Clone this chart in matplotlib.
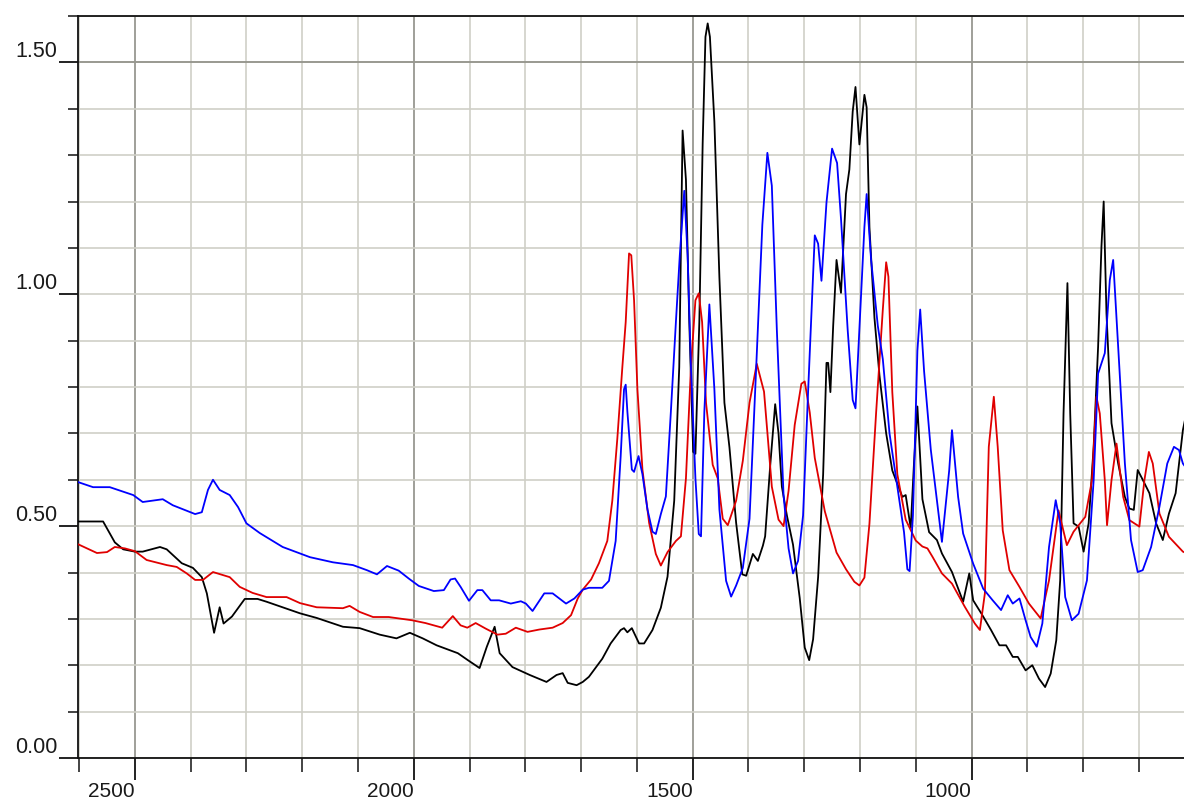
import matplotlib
matplotlib.use("Agg")
import matplotlib.pyplot as plt
from matplotlib.ticker import MultipleLocator, FixedLocator

plt.rcParams['font.family'] = ['Liberation Sans', 'DejaVu Sans']

# ---- data (wavenumber, absorbance) ----
black_wn = [2602, 2557, 2536, 2521, 2500, 2486, 2455, 2443, 2416, 2396, 2380, 2371, 2358, 2348, 2341,
            2326, 2317, 2303, 2280, 2264, 2204, 2174, 2127, 2097, 2061, 2031, 2007, 1984, 1959, 1921,
            1903, 1882, 1869, 1855, 1846, 1823, 1792, 1762, 1744, 1733, 1724, 1708, 1697, 1686, 1662,
            1647, 1629, 1623, 1617, 1609, 1596, 1587, 1572, 1557, 1545, 1533, 1524, 1518, 1512, 1506,
            1499, 1495, 1488, 1482, 1477, 1473, 1469, 1461, 1452, 1443, 1434, 1422, 1411, 1404, 1392,
            1383, 1374, 1370, 1361, 1352, 1346, 1340, 1331, 1320, 1308, 1299, 1291, 1284, 1275, 1266,
            1260, 1257, 1253, 1248, 1242, 1234, 1225, 1219, 1213, 1208, 1201, 1192, 1188, 1183, 1174,
            1165, 1153, 1142, 1124, 1118, 1109, 1103, 1097, 1088, 1076, 1062, 1053, 1035, 1015, 1004,
            997, 982, 965, 950, 938, 926, 917, 903, 891, 879, 868, 858, 848, 841, 835, 828, 823, 817,
            808, 799, 790, 781, 773, 767, 763, 758, 749, 737, 725, 717, 709, 702, 693, 681, 669, 657,
            646, 634, 621, 612]
black_ab = [0.51, 0.51, 0.465, 0.45, 0.445, 0.445, 0.455, 0.45, 0.42, 0.41, 0.39, 0.355, 0.27, 0.325, 0.29,
            0.305, 0.32, 0.343, 0.343, 0.337, 0.312, 0.302, 0.283, 0.28, 0.266, 0.258, 0.27, 0.258, 0.243, 0.226,
            0.211, 0.194, 0.24, 0.283, 0.226, 0.196, 0.179, 0.164, 0.179, 0.183, 0.162, 0.157, 0.164, 0.175, 0.214,
            0.247, 0.276, 0.28, 0.271, 0.28, 0.247, 0.247, 0.276, 0.324, 0.391, 0.555, 0.843, 1.353, 1.247, 0.94,
            0.66, 0.656, 0.94, 1.325, 1.555, 1.584, 1.555, 1.372, 1.036, 0.766, 0.67, 0.507, 0.396, 0.393, 0.44,
            0.425, 0.458, 0.478, 0.629, 0.763, 0.70, 0.585, 0.523, 0.46, 0.345, 0.238, 0.211, 0.256, 0.39, 0.612,
            0.852, 0.852, 0.789, 0.932, 1.074, 1.003, 1.216, 1.269, 1.394, 1.447, 1.323, 1.43, 1.403, 1.145, 0.949,
            0.825, 0.70, 0.62, 0.563, 0.567, 0.496, 0.638, 0.758, 0.558, 0.487, 0.47, 0.441, 0.401, 0.337, 0.398,
            0.34, 0.311, 0.276, 0.243, 0.243, 0.218, 0.218, 0.189, 0.2, 0.171, 0.153, 0.182, 0.254, 0.383, 0.743,
            1.024, 0.743, 0.506, 0.499, 0.445, 0.506, 0.671, 0.887, 1.103, 1.2, 0.959, 0.722, 0.635, 0.563, 0.538,
            0.535, 0.621, 0.6, 0.571, 0.506, 0.47, 0.527, 0.571, 0.707, 0.76]

blue_wn = [2602, 2575, 2545, 2503, 2486, 2450, 2432, 2392, 2380, 2369, 2360, 2348, 2330, 2315, 2300,
           2276, 2235, 2186, 2145, 2109, 2084, 2066, 2048, 2027, 2009, 1991, 1964, 1946, 1934, 1926,
           1916, 1901, 1886, 1877, 1862, 1847, 1826, 1808, 1799, 1787, 1766, 1751, 1727, 1712, 1697,
           1686, 1662, 1650, 1638, 1629, 1623, 1620, 1617, 1609, 1605, 1597, 1590, 1581, 1572, 1566,
           1557, 1548, 1539, 1530, 1523, 1515, 1509, 1503, 1495, 1489, 1485, 1479, 1470, 1461, 1452,
           1440, 1431, 1422, 1410, 1398, 1386, 1375, 1366, 1358, 1349, 1337, 1328, 1320, 1311, 1302,
           1293, 1281, 1275, 1269, 1260, 1250, 1241, 1234, 1222, 1213, 1208, 1201, 1192, 1188, 1180,
           1168, 1159, 1147, 1133, 1121, 1115, 1111, 1105, 1097, 1092, 1085, 1073, 1062, 1053, 1040,
           1035, 1024, 1015, 997, 979, 962, 947, 935, 926, 914, 903, 894, 883, 873, 861, 849, 841,
           832, 820, 808, 793, 781, 773, 761, 752, 746, 737, 725, 714, 702, 693, 678, 663, 649, 637,
           628, 621, 612]
blue_ab = [0.595, 0.584, 0.584, 0.567, 0.552, 0.558, 0.545, 0.526, 0.53, 0.578, 0.6, 0.578, 0.567, 0.541, 0.506,
           0.485, 0.455, 0.433, 0.422, 0.416, 0.405, 0.396, 0.414, 0.404, 0.387, 0.371, 0.36, 0.362, 0.385, 0.387,
           0.369, 0.339, 0.362, 0.362, 0.34, 0.34, 0.333, 0.338, 0.333, 0.317, 0.355, 0.355, 0.333, 0.344, 0.363,
           0.367, 0.367, 0.382, 0.468, 0.651, 0.795, 0.805, 0.747, 0.622, 0.617, 0.651, 0.612, 0.536, 0.488, 0.483,
           0.526, 0.564, 0.747, 0.94, 1.084, 1.223, 1.084, 0.843, 0.603, 0.483, 0.478, 0.747, 0.978, 0.795, 0.536,
           0.382, 0.348, 0.372, 0.41, 0.516, 0.843, 1.15, 1.305, 1.234, 0.923, 0.567, 0.452, 0.398, 0.425, 0.523,
           0.789, 1.127, 1.109, 1.029, 1.198, 1.314, 1.283, 1.163, 0.923, 0.772, 0.754, 0.923, 1.145, 1.216, 1.074,
           0.932, 0.86, 0.70, 0.585, 0.487, 0.407, 0.403, 0.523, 0.878, 0.967, 0.834, 0.665, 0.556, 0.466, 0.62,
           0.707, 0.563, 0.484, 0.419, 0.365, 0.34, 0.319, 0.351, 0.333, 0.344, 0.297, 0.261, 0.24, 0.29, 0.455,
           0.556, 0.506, 0.347, 0.297, 0.311, 0.383, 0.599, 0.829, 0.873, 1.031, 1.074, 0.887, 0.635, 0.47, 0.401,
           0.405, 0.455, 0.542, 0.635, 0.671, 0.664, 0.635, 0.62]

red_wn = [2602, 2568, 2550, 2536, 2518, 2500, 2479, 2443, 2425, 2407, 2392, 2378, 2360, 2330, 2312,
          2289, 2264, 2228, 2204, 2174, 2127, 2115, 2097, 2073, 2045, 2003, 1979, 1949, 1930, 1916,
          1904, 1889, 1871, 1850, 1835, 1817, 1796, 1775, 1751, 1733, 1718, 1706, 1697, 1682, 1668,
          1653, 1644, 1635, 1626, 1620, 1614, 1610, 1605, 1599, 1590, 1578, 1566, 1557, 1545, 1530,
          1521, 1512, 1503, 1495, 1489, 1483, 1476, 1464, 1455, 1446, 1437, 1422, 1410, 1398, 1385,
          1372, 1358, 1346, 1337, 1328, 1317, 1305, 1299, 1290, 1281, 1263, 1242, 1225, 1210, 1201,
          1192, 1183, 1171, 1159, 1153, 1149, 1142, 1133, 1118, 1100, 1088, 1079, 1070, 1053, 1035,
          1012, 994, 985, 976, 969, 960, 953, 944, 932, 914, 897, 876, 861, 844, 829, 817, 796, 784,
          776, 770, 761, 757, 749, 740, 728, 717, 699, 690, 682, 675, 663, 646, 621, 612]
red_ab = [0.461, 0.442, 0.444, 0.455, 0.452, 0.446, 0.427, 0.416, 0.412, 0.398, 0.384, 0.384, 0.401, 0.39, 0.369,
          0.356, 0.347, 0.347, 0.334, 0.325, 0.323, 0.328, 0.315, 0.304, 0.304, 0.297, 0.291, 0.281, 0.306, 0.286,
          0.281, 0.291, 0.279, 0.266, 0.268, 0.281, 0.272, 0.277, 0.281, 0.291, 0.308, 0.344, 0.363, 0.385, 0.42,
          0.468, 0.555, 0.689, 0.843, 0.94, 1.088, 1.084, 0.987, 0.795, 0.622, 0.507, 0.44, 0.415, 0.444, 0.468,
          0.478, 0.603, 0.843, 0.987, 1.002, 0.94, 0.766, 0.632, 0.603, 0.516, 0.502, 0.555, 0.641, 0.766, 0.85,
          0.79, 0.585, 0.514, 0.5, 0.576, 0.718, 0.807, 0.812, 0.745, 0.647, 0.532, 0.443, 0.407, 0.38, 0.372,
          0.389, 0.505, 0.745, 0.967, 1.069, 1.038, 0.789, 0.612, 0.514, 0.469, 0.456, 0.452, 0.434, 0.398, 0.376,
          0.326, 0.29, 0.276, 0.355, 0.671, 0.779, 0.671, 0.491, 0.405, 0.369, 0.333, 0.301, 0.383, 0.534, 0.459,
          0.488, 0.52, 0.599, 0.779, 0.743, 0.599, 0.502, 0.599, 0.678, 0.563, 0.513, 0.499, 0.599, 0.66, 0.635,
          0.527, 0.477, 0.445, 0.44]

x_major = [2500, 2000, 1500, 1000]
x_labels = ["2500", "2000", "1500", "1000"]
y_major = [0.0, 0.5, 1.0, 1.5]
y_labels = ["0.00", "0.50", "1.00", "1.50"]

# ---- figure ----
W, H = 1184, 801
fig = plt.figure(figsize=(W / 100, H / 100), dpi=100)
ax = fig.add_axes([78 / W, 43 / H, (W - 78) / W, (758 - 16) / H])
ax.set_xlim(2602, 619)
ax.set_ylim(0, 1.6)

light = '#cfcfc7'
dark = '#8f8f87'

ax.xaxis.set_major_locator(FixedLocator(x_major))
ax.xaxis.set_minor_locator(MultipleLocator(100))
ax.yaxis.set_major_locator(FixedLocator(y_major))
ax.yaxis.set_minor_locator(MultipleLocator(0.1))
ax.set_xticklabels(x_labels)
ax.set_yticklabels(y_labels)

ax.grid(which='minor', axis='both', color=light, lw=1.2)
ax.grid(which='major', axis='y', color=light, lw=1.2)
ax.grid(which='major', axis='x', color=dark, lw=1.2)
ax.axhline(1.5, color=dark, lw=1.2, zorder=0.6)
ax.set_axisbelow(True)

ax.plot(black_wn, black_ab, color='#000000', lw=1.3, zorder=3, solid_joinstyle='round')
ax.plot(red_wn, red_ab, color='#e00000', lw=1.3, zorder=3, solid_joinstyle='round')
ax.plot(blue_wn, blue_ab, color='#0000ff', lw=1.3, zorder=3, solid_joinstyle='round')

for s in ['left', 'bottom', 'top']:
    ax.spines[s].set_color('#111111')
    ax.spines[s].set_linewidth(1.3)
ax.spines['right'].set_visible(False)

ax.tick_params(axis='y', which='major', length=14, width=1.3, pad=1,
               labelsize=15.5, labelcolor='#1a1a1a', color='#111111')
ax.tick_params(axis='y', which='minor', length=7.5, width=1.1, color='#111111')
ax.tick_params(axis='x', which='major', length=16, width=1.3, pad=1,
               labelsize=15, labelcolor='#1a1a1a', color='#111111')
ax.tick_params(axis='x', which='minor', length=10, width=1.1, color='#111111')
for lab in ax.get_yticklabels():
    lab.set_va('bottom')
for lab in ax.get_xticklabels():
    lab.set_ha('right')

fig.savefig('out.png', dpi=100)
